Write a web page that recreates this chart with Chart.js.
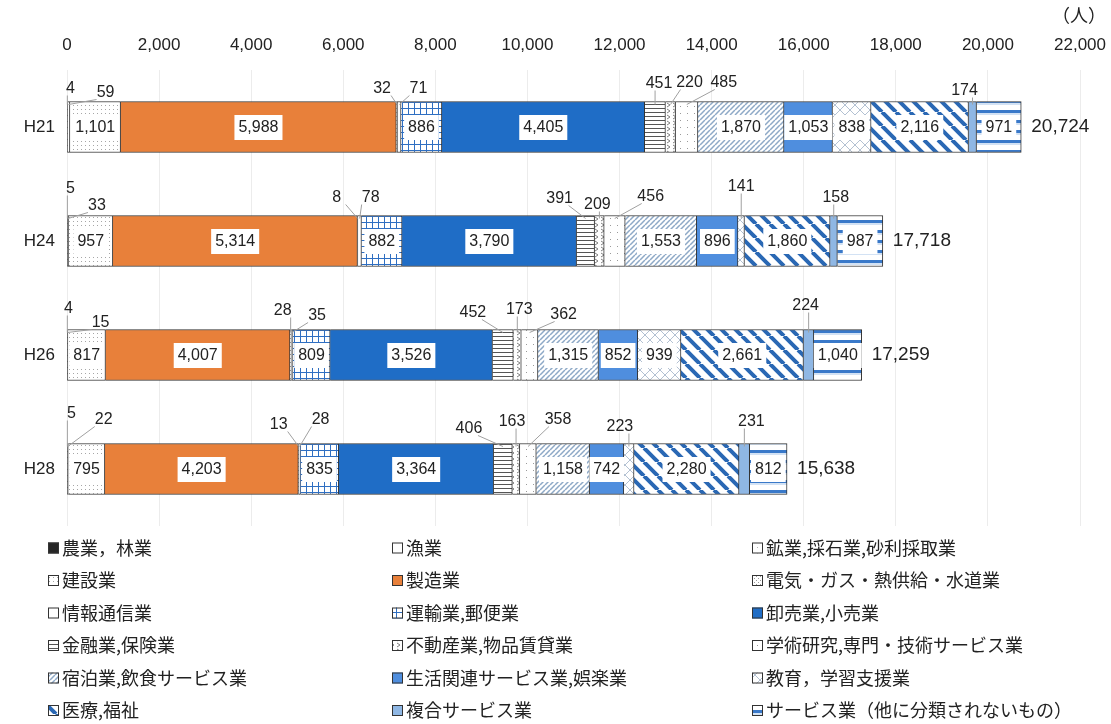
<!DOCTYPE html>
<html lang="ja">
<head>
<meta charset="utf-8">
<title>産業別従業者数の推移</title>
<script src="https://cdn.jsdelivr.net/npm/chart.js@4/dist/chart.umd.min.js"></script>
<style>
  html, body { margin: 0; padding: 0; background: #fff; }
  #wrap { width: 1111px; height: 724px; }
</style>
</head>
<body>
<div id="wrap"><canvas id="chart1" width="1111" height="724"></canvas></div>
<script>
const years = ['H21', 'H24', 'H26', 'H28'];

const industries = [
  '農業，林業', '漁業', '鉱業,採石業,砂利採取業',
  '建設業', '製造業', '電気・ガス・熱供給・水道業',
  '情報通信業', '運輸業,郵便業', '卸売業,小売業',
  '金融業,保険業', '不動産業,物品賃貸業', '学術研究,専門・技術サービス業',
  '宿泊業,飲食サービス業', '生活関連サービス業,娯楽業', '教育，学習支援業',
  '医療,福祉', '複合サービス業', 'サービス業（他に分類されないもの）'
];

// 従業者数（人）, same order as industries
const h21 = [4, 0, 59, 1101, 5988, 32, 71, 886, 4405, 451, 220, 485, 1870, 1053, 838, 2116, 174, 971];
const h24 = [5, 0, 33, 957, 5314, 8, 78, 882, 3790, 391, 209, 456, 1553, 896, 141, 1860, 158, 987];
const h26 = [4, 0, 15, 817, 4007, 28, 35, 809, 3526, 452, 173, 362, 1315, 852, 939, 2661, 224, 1040];
const h28 = [5, 0, 22, 795, 4203, 13, 28, 835, 3364, 406, 163, 358, 1158, 742, 223, 2280, 231, 812];

const rows = [h21, h24, h26, h28];

// fill style per industry
const fills = [
  { kind: 'solid', color: '#262626' },
  { kind: 'solid', color: '#ffffff' },
  { kind: 'dots', color: '#b5b5b5', step: 6 },
  { kind: 'dots', color: '#a6a6a6', step: 4 },
  { kind: 'solid', color: '#e8803a' },
  { kind: 'hatch', color: '#9a9a9a', step: 4 },
  { kind: 'solid', color: '#ffffff' },
  { kind: 'grid', color: '#2f6fc2', step: 6 },
  { kind: 'solid', color: '#1f6dc6' },
  { kind: 'hlines', color: '#555555', step: 4 },
  { kind: 'chevron', color: '#808080', step: 6 },
  { kind: 'dots', color: '#9a9a9a', step: 7 },
  { kind: 'diag', color: '#8ea9c7', step: 5, lw: 1.5 },
  { kind: 'solid', color: '#4f8ede' },
  { kind: 'cross', color: '#b3c1d2', step: 10 },
  { kind: 'rdiag', color: '#2a68b4', step: 14, lw: 4 },
  { kind: 'solid', color: '#8fb7e4' },
  { kind: 'stripes', color: '#3a79c9', step: 10 }
];

// small values are written above the bar: [dx from segment centre, dy from bar top]
const calloutPos = [
  { 0: [3, -13], 2: [37, -9], 5: [-15, -13], 6: [19, -13], 9: [4, -18], 10: [19, -19], 11: [37, -19], 16: [-8, -11] },
  { 0: [3, -27], 2: [29, -10], 5: [-21, -18], 6: [11, -18], 9: [-26, -17], 10: [-2, -11], 11: [36, -19], 14: [0, -29], 16: [2, -18] },
  { 0: [1, -21], 2: [33, -7], 5: [-8, -19], 6: [25, -14], 9: [-30, -17], 10: [2, -20], 11: [34, -15], 16: [-3, -24] },
  { 0: [4, -30], 2: [36, -24], 5: [-20, -19], 6: [21, -24], 9: [-34, -15], 10: [-4, -22], 11: [30, -24], 14: [-9, -17], 16: [7, -22] }
];

const numFont = '"Liberation Sans", Arial, sans-serif';
const jpFont = '"Noto Sans CJK JP", "Noto Sans", sans-serif';
const fmt = v => v.toLocaleString('en-US');

function makeFill(f) {
  if (f.kind === 'solid') return f.color;
  const s = f.step;
  const c = document.createElement('canvas');
  c.width = s; c.height = s;
  const g = c.getContext('2d');
  g.fillStyle = '#fff';
  g.fillRect(0, 0, s, s);
  g.fillStyle = f.color;
  g.strokeStyle = f.color;
  g.lineWidth = f.lw || 1;
  if (f.kind === 'dots') {
    g.fillRect(1, 1, 1, 1);
  } else if (f.kind === 'hatch') {
    g.fillRect(0, 0, 1, 1);
    g.fillRect(2, 2, 1, 1);
  } else if (f.kind === 'grid') {
    g.fillRect(0, 0, s, 1);
    g.fillRect(0, 0, 1, s);
  } else if (f.kind === 'hlines') {
    g.fillRect(0, 0, s, 1);
  } else if (f.kind === 'chevron') {
    g.beginPath(); g.moveTo(1, 1); g.lineTo(4, 3); g.lineTo(1, 5); g.stroke();
  } else if (f.kind === 'cross') {
    g.beginPath(); g.moveTo(0, 0); g.lineTo(s, s); g.moveTo(s, 0); g.lineTo(0, s); g.stroke();
  } else if (f.kind === 'diag') {
    g.beginPath();
    for (const k of [-s, 0, s]) { g.moveTo(k, s); g.lineTo(k + s, 0); }
    g.stroke();
  } else if (f.kind === 'rdiag') {
    g.beginPath();
    for (const k of [-s, 0, s]) { g.moveTo(k, 0); g.lineTo(k + s, s); }
    g.stroke();
  } else if (f.kind === 'stripes') {
    g.fillRect(0, 0, s, 3);
    g.fillStyle = '#d3e2f4';
    g.fillRect(0, 3, s, 2);
  }
  return g.createPattern(c, 'repeat');
}

const patterns = fills.map(makeFill);

const datasets = industries.map((name, i) => ({
  label: name,
  data: rows.map(r => r[i]),
  backgroundColor: patterns[i],
  borderColor: '#333',
  borderWidth: 1,
  barThickness: 51
}));

// value labels, totals, unit and legend
const annotate = {
  id: 'annotate',
  afterDatasetsDraw(chart) {
    const ctx = chart.ctx;
    ctx.save();
    ctx.textBaseline = 'middle';
    ctx.textAlign = 'center';
    ctx.font = '16px ' + numFont;
    chart.data.datasets.forEach((ds, i) => {
      const meta = chart.getDatasetMeta(i);
      meta.data.forEach((bar, j) => {
        const v = ds.data[j];
        if (!v) return;
        const left = Math.min(bar.base, bar.x);
        const right = Math.max(bar.base, bar.x);
        const cx = (left + right) / 2;
        const top = bar.y - bar.height / 2;
        const text = fmt(v);
        const pos = calloutPos[j][i];
        if (pos) {
          const lx = cx + pos[0];
          const ly = top + pos[1];
          const off = Math.max(-9, Math.min(9, pos[0]));
          ctx.strokeStyle = '#a0a0a0';
          ctx.lineWidth = 1;
          ctx.beginPath();
          ctx.moveTo(lx - off, ly + 7);
          ctx.lineTo(cx, top + 3);
          ctx.stroke();
          ctx.fillStyle = '#222';
          ctx.fillText(text, lx, ly);
        } else {
          const w = ctx.measureText(text).width + 8;
          ctx.fillStyle = '#fff';
          ctx.fillRect(cx - w / 2, bar.y - 12, w, 25);
          ctx.fillStyle = '#222';
          ctx.fillText(text, cx, bar.y + 1);
        }
      });
    });

    // totals at the end of each bar
    const last = chart.getDatasetMeta(chart.data.datasets.length - 1);
    ctx.textAlign = 'left';
    ctx.font = '19px ' + numFont;
    ctx.fillStyle = '#222';
    rows.forEach((r, j) => {
      const total = r.reduce((a, b) => a + b, 0);
      const bar = last.data[j];
      ctx.fillText(fmt(total), Math.max(bar.x, bar.base) + 10, bar.y);
    });
    ctx.restore();
  },
  afterDraw(chart) {
    const ctx = chart.ctx;
    ctx.save();
    ctx.fillStyle = '#222';
    ctx.textBaseline = 'middle';
    ctx.textAlign = 'right';
    ctx.font = '18px ' + jpFont;
    ctx.fillText('（人）', 1106, 15);

    // legend, three columns
    const colX = [48, 392, 752];
    ctx.textAlign = 'left';
    industries.forEach((name, i) => {
      const x = colX[i % 3];
      const y = 548 + Math.floor(i / 3) * 32.5;
      ctx.fillStyle = patterns[i];
      ctx.fillRect(x, y - 5.5, 11, 11);
      ctx.strokeStyle = '#333';
      ctx.lineWidth = 1;
      ctx.strokeRect(x + 0.5, y - 5, 10, 10);
      ctx.fillStyle = '#222';
      ctx.font = '18px ' + jpFont;
      ctx.fillText(name, x + 14, y);
    });
    ctx.restore();
  }
};

new Chart(document.getElementById('chart1'), {
  type: 'bar',
  data: { labels: years, datasets: datasets },
  options: {
    indexAxis: 'y',
    responsive: false,
    animation: false,
    layout: { padding: { left: 0, right: 31, top: 0, bottom: 198 } },
    plugins: {
      legend: { display: false },
      tooltip: { enabled: false }
    },
    scales: {
      x: {
        position: 'top',
        stacked: true,
        min: 0,
        max: 22000,
        ticks: {
          stepSize: 2000,
          padding: 0,
          color: '#222',
          font: { family: numFont, size: 17 },
          callback: v => fmt(v)
        },
        grid: { color: '#ececec', drawTicks: true, tickLength: 14, tickColor: 'rgba(0,0,0,0)' },
        border: { display: false },
        afterFit(s) { s.height = 70; }
      },
      y: {
        stacked: true,
        ticks: {
          padding: 12,
          color: '#222',
          font: { family: numFont, size: 17 }
        },
        grid: { display: false, drawTicks: false },
        border: { display: false },
        afterFit(s) { s.width = 67; }
      }
    }
  },
  plugins: [annotate]
});
</script>
</body>
</html>
